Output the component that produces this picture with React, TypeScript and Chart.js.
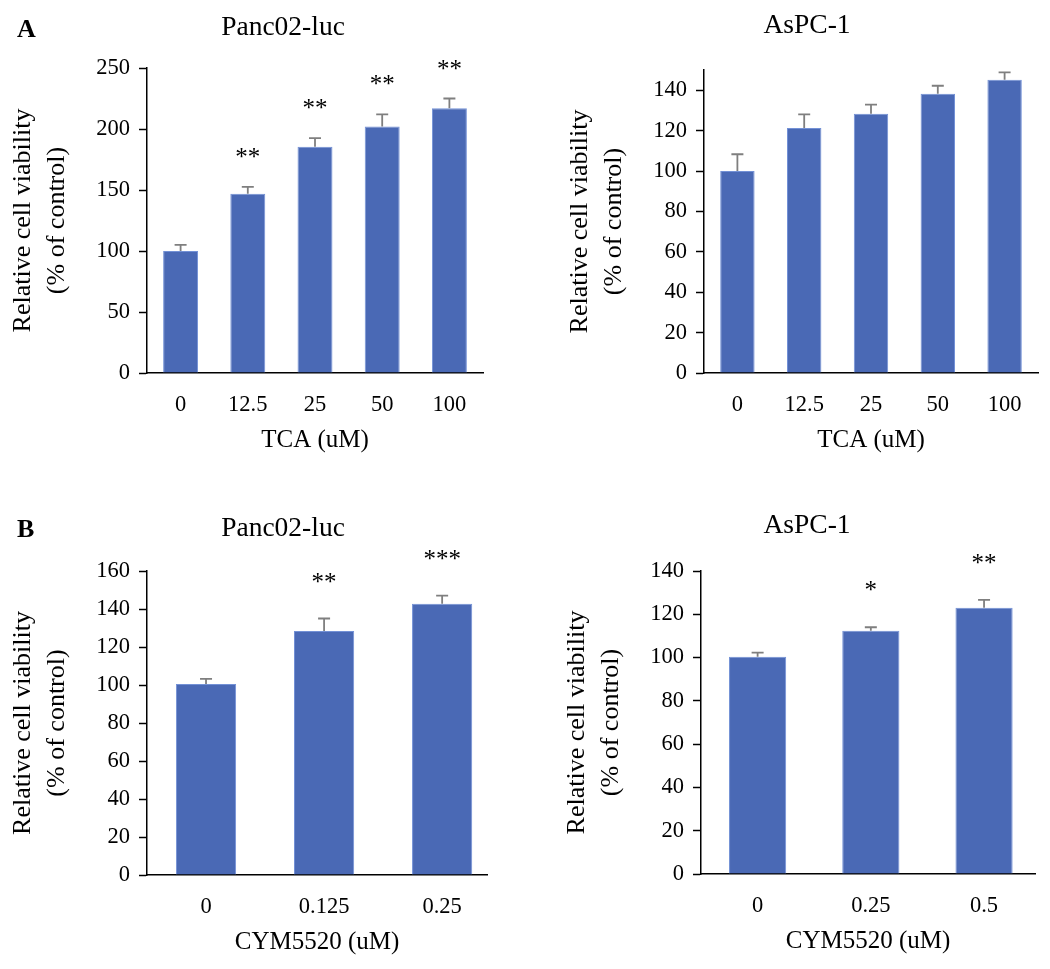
import React, { useEffect, useRef } from 'react';
import { Chart, registerables } from 'chart.js';

Chart.register(...registerables);

const FONT = '"Liberation Serif", "Times New Roman", Times, serif';

// ---------- Data ----------
// Panel A: TCA (uM)
const tcaDoses = ['0', '12.5', '25', '50', '100'];
const panc02TcaValues = [100, 147, 185.5, 202, 217];
const panc02TcaErrors = [5, 5.5, 7, 10, 8];
const panc02TcaStars = ['', '**', '**', '**', '**'];

const aspc1TcaValues = [100, 121.3, 128.3, 138.3, 145.2];
const aspc1TcaErrors = [8.3, 6.7, 4.6, 3.9, 3.6];
const aspc1TcaStars = ['', '', '', '', ''];

// Panel B: CYM5520 (uM)
const cymDosesPanc02 = ['0', '0.125', '0.25'];
const panc02CymValues = [100.5, 128.4, 142.7];
const panc02CymErrors = [2.7, 6.6, 4.3];
const panc02CymStars = ['', '**', '***'];

const cymDosesAspc1 = ['0', '0.25', '0.5'];
const aspc1CymValues = [100.4, 112.4, 123];
const aspc1CymErrors = [1.9, 1.6, 3.7];
const aspc1CymStars = ['', '*', '**'];

const yTitleLines = ['Relative cell viability', '(% of control)'];

type PanelProps = {
  left: number;
  top: number;
  width: number;
  height: number;
  axisX: number;
  plotTop: number;
  plotBottom: number;
  plotRight: number;
  xMax: number;
  yMax: number;
  yStep: number;
  barPct: number;
  categories: string[];
  values: number[];
  errors: number[];
  stars: string[];
  title: string;
  titleX: number;
  titleBaseline: number;
  letter?: string;
  letterBaseline?: number;
  xTitle: string;
  starGap: number;
};

function Panel(p: PanelProps) {
  const ref = useRef<HTMLCanvasElement | null>(null);

  useEffect(() => {
    if (!ref.current) return;
    const padL = p.axisX - 147 - p.left;
    const yWidth = p.axisX - p.left - padL;
    const xHeight = p.top + p.height - p.plotBottom;
    const xTitlePadBottom = p.top + p.height - (p.plotBottom + 67.5) - 15;

    const overlay = {
      id: 'overlay',
      afterDatasetsDraw(chart: any) {
        const { ctx } = chart;
        const yScale = chart.scales.y;
        const meta = chart.getDatasetMeta(0);
        ctx.save();
        p.values.forEach((v, i) => {
          const el = meta.data[i];
          const px = el.x;
          const y0 = yScale.getPixelForValue(v);
          const y1 = yScale.getPixelForValue(v + p.errors[i]);
          ctx.strokeStyle = '#7f7f7f';
          ctx.lineWidth = 1.8;
          ctx.beginPath();
          ctx.moveTo(px, y0);
          ctx.lineTo(px, y1);
          ctx.moveTo(px - 6, y1);
          ctx.lineTo(px + 6, y1);
          ctx.stroke();
          if (p.stars[i]) {
            ctx.fillStyle = '#000';
            ctx.font = `25px ${FONT}`;
            ctx.textAlign = 'center';
            ctx.textBaseline = 'alphabetic';
            ctx.fillText(p.stars[i], px, y1 - p.starGap + 11);
          }
        });
        ctx.restore();
      },
      afterDraw(chart: any) {
        const { ctx } = chart;
        ctx.save();
        ctx.fillStyle = '#000';
        ctx.textBaseline = 'alphabetic';
        ctx.textAlign = 'center';
        ctx.font = `27.5px ${FONT}`;
        ctx.fillText(p.title, p.titleX, p.titleBaseline);
        if (p.letter) {
          ctx.font = `bold 26px ${FONT}`;
          ctx.textAlign = 'left';
          ctx.fillText(p.letter, 17, p.letterBaseline);
        }
        ctx.restore();
      },
    };

    const chart = new Chart(ref.current, {
      type: 'bar',
      data: {
        datasets: [
          {
            data: p.values.map((v, i) => ({ x: i, y: v })),
            backgroundColor: '#4a69b5',
            borderColor: '#7391d6',
            borderWidth: 1,
            categoryPercentage: 1,
            barPercentage: p.barPct,
          },
        ],
      },
      options: {
        responsive: false,
        animation: false,
        devicePixelRatio: 1,
        layout: {
          padding: {
            left: padL,
            top: p.plotTop - p.top,
            right: p.left + p.width - p.plotRight,
            bottom: 0,
          },
        },
        plugins: {
          legend: { display: false },
          tooltip: { enabled: false },
          title: { display: false },
        },
        scales: {
          x: {
            type: 'linear',
            min: -0.5,
            max: p.xMax,
            bounds: 'data',
            offset: false,
            afterBuildTicks: (scale: any) => {
              scale.ticks = p.categories.map((_, i) => ({ value: i }));
            },
            afterFit: (scale: any) => {
              scale.height = xHeight;
            },
            ticks: {
              autoSkip: false,
              maxRotation: 0,
              padding: 19,
              color: '#000',
              font: { family: FONT, size: 22.5 },
              callback: (_v: any, i: number) => p.categories[i],
            },
            grid: { display: false, drawTicks: false, offset: false },
            border: { display: true, color: '#000', width: 1.5 },
            title: {
              display: true,
              text: p.xTitle,
              color: '#000',
              font: { family: FONT, size: 25, lineHeight: 1.2 },
              padding: { top: 0, bottom: xTitlePadBottom },
            },
          },
          y: {
            min: 0,
            max: p.yMax,
            bounds: 'data',
            afterBuildTicks: (scale: any) => {
              scale.ticks = scale.ticks.filter((t: any) => Math.abs(t.value / p.yStep - Math.round(t.value / p.yStep)) < 1e-6);
            },
            afterFit: (scale: any) => {
              scale.width = yWidth;
            },
            ticks: {
              stepSize: p.yStep,
              padding: 9,
              color: '#000',
              font: { family: FONT, size: 22.5 },
            },
            grid: {
              display: true,
              drawOnChartArea: false,
              drawTicks: true,
              tickLength: 8,
              tickColor: '#000',
              tickWidth: 1.5,
            },
            border: { display: true, color: '#000', width: 1.5 },
            title: {
              display: true,
              text: yTitleLines,
              color: '#000',
              font: { family: FONT, size: 26, lineHeight: 1.3 },
              padding: { top: 6, bottom: 0 },
            },
          },
        },
      },
      plugins: [overlay],
    } as any);

    return () => chart.destroy();
  }, []);

  return (
    <canvas
      ref={ref}
      width={p.width}
      height={p.height}
      style={{ position: 'absolute', left: p.left, top: p.top, width: p.width, height: p.height }}
    />
  );
}

export default function App() {
  return (
    <div style={{ position: 'absolute', left: 0, top: 0, width: 1050, height: 969, background: '#fff' }}>
      <Panel
        left={0}
        top={0}
        width={525}
        height={485}
        axisX={147}
        plotTop={68}
        plotBottom={373}
        plotRight={483}
        xMax={4.5}
        yMax={250}
        yStep={50}
        barPct={0.52}
        categories={tcaDoses}
        values={panc02TcaValues}
        errors={panc02TcaErrors}
        stars={panc02TcaStars}
        title="Panc02-luc"
        titleX={283}
        titleBaseline={35}
        letter="A"
        letterBaseline={37}
        xTitle="TCA (uM)"
        starGap={33}
      />
      <Panel
        left={525}
        top={0}
        width={525}
        height={485}
        axisX={704}
        plotTop={70}
        plotBottom={373}
        plotRight={1038}
        xMax={4.5}
        yMax={150}
        yStep={20}
        barPct={0.515}
        categories={tcaDoses}
        values={aspc1TcaValues}
        errors={aspc1TcaErrors}
        stars={aspc1TcaStars}
        title="AsPC-1"
        titleX={282}
        titleBaseline={33}
        xTitle="TCA (uM)"
        starGap={33}
      />
      <Panel
        left={0}
        top={485}
        width={525}
        height={484}
        axisX={147}
        plotTop={571}
        plotBottom={875}
        plotRight={487}
        xMax={2.38}
        yMax={160}
        yStep={20}
        barPct={0.51}
        categories={cymDosesPanc02}
        values={panc02CymValues}
        errors={panc02CymErrors}
        stars={panc02CymStars}
        title="Panc02-luc"
        titleX={283}
        titleBaseline={51}
        letter="B"
        letterBaseline={52}
        xTitle="CYM5520 (uM)"
        starGap={40}
      />
      <Panel
        left={525}
        top={485}
        width={525}
        height={484}
        axisX={701}
        plotTop={571}
        plotBottom={874}
        plotRight={1035}
        xMax={2.45}
        yMax={140}
        yStep={20}
        barPct={0.505}
        categories={cymDosesAspc1}
        values={aspc1CymValues}
        errors={aspc1CymErrors}
        stars={aspc1CymStars}
        title="AsPC-1"
        titleX={282}
        titleBaseline={48}
        xTitle="CYM5520 (uM)"
        starGap={40}
      />
    </div>
  );
}
